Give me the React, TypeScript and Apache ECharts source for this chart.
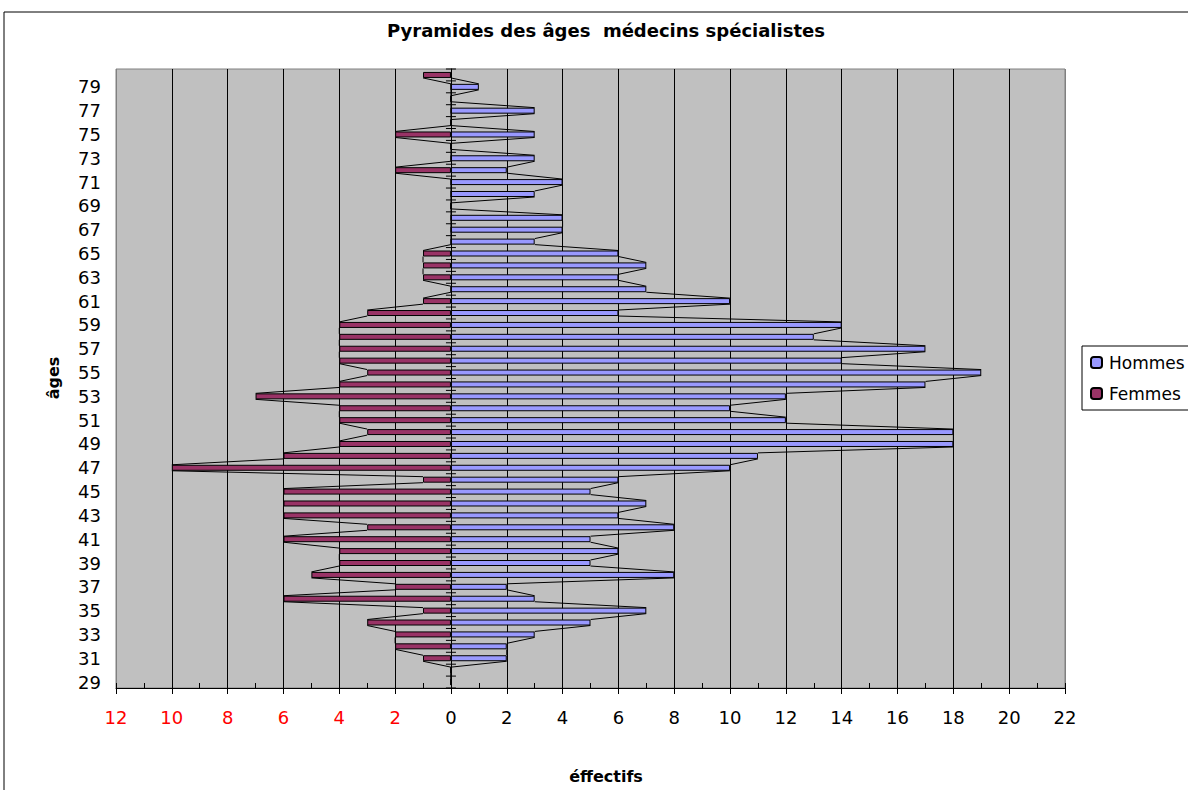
import React, { useEffect, useRef } from "react";
import * as echarts from "echarts";

const AGES = [
  "29","30","31","32","33","34","35","36","37","38",
  "39","40","41","42","43","44","45","46","47","48",
  "49","50","51","52","53","54","55","56","57","58",
  "59","60","61","62","63","64","65","66","67","68",
  "69","70","71","72","73","74","75","76","77","78",
  "79","80",
];
const HOMMES = [
  0, 0, 2, 2, 3, 5, 7, 3, 2, 8,
  5, 6, 5, 8, 6, 7, 5, 6, 10, 11,
  18, 18, 12, 10, 12, 17, 19, 14, 17, 13,
  14, 6, 10, 7, 6, 7, 6, 3, 4, 4,
  0, 3, 4, 2, 3, 0, 3, 0, 3, 0,
  1, 0,
];
const FEMMES = [
  0, 0, -1, -2, -2, -3, -1, -6, -2, -5,
  -4, -4, -6, -3, -6, -6, -6, -1, -10, -6,
  -4, -3, -4, -4, -7, -4, -3, -4, -4, -4,
  -4, -3, -1, 0, -1, -1, -1, 0, 0, 0,
  0, 0, 0, -2, 0, 0, -2, 0, 0, 0,
  0, -1,
];
const X_MIN = -12;
const X_MAX = 22;
const X_STEP = 2;

const TITLE = "Pyramides des âges  médecins spécialistes";
const X_NAME = "éffectifs";
const Y_NAME = "âges";

const FONT = "'DejaVu Sans', Verdana, sans-serif";
const BAR_W = 6;

function linkSeries(values: number[]) {
  const data = values.slice(0, -1).map((v, i) => [v, i, values[i + 1]]);
  return {
    type: "custom",
    silent: true,
    z: 4,
    xAxisIndex: 0,
    yAxisIndex: 0,
    encode: { x: 0, y: 1 },
    data,
    renderItem: (params: any, api: any) => {
      const i = api.value(1);
      const a = api.coord([api.value(0), i]);
      const b = api.coord([api.value(2), i + 1]);
      const h = BAR_W / 2;
      return {
        type: "line",
        shape: { x1: a[0], y1: a[1] - h, x2: b[0], y2: b[1] + h },
        style: { stroke: "#000", lineWidth: 1 },
      };
    },
  };
}

function tickSeries() {
  const data = AGES.map((_, i) => [0, i]);
  return {
    type: "custom",
    silent: true,
    z: 5,
    xAxisIndex: 0,
    yAxisIndex: 0,
    encode: { x: 0, y: 1 },
    data,
    renderItem: (params: any, api: any) => {
      const i = api.value(1);
      const c = api.coord([0, i]);
      const band = api.size([0, 1])[1];
      const children: any[] = [
        {
          type: "line",
          shape: { x1: c[0] - 5, y1: c[1] + band / 2, x2: c[0] + 5, y2: c[1] + band / 2 },
          style: { stroke: "#000", lineWidth: 1 },
        },
      ];
      if (i === AGES.length - 1) {
        children.push({
          type: "line",
          shape: { x1: c[0] - 5, y1: c[1] - band / 2, x2: c[0] + 5, y2: c[1] - band / 2 },
          style: { stroke: "#000", lineWidth: 1 },
        });
      }
      return { type: "group", children };
    },
  };
}

export default function App() {
  const ref = useRef<HTMLDivElement>(null);

  useEffect(() => {
    if (!ref.current) return;
    const chart = echarts.init(ref.current, undefined, { renderer: "svg" });
    const nTicks = (X_MAX - X_MIN) / X_STEP + 1;
    const splitColors = Array.from({ length: nTicks }, (_, k) =>
      k === 0 || k === nTicks - 1 ? "#808080" : "#000000"
    );

    chart.setOption({
      animation: false,
      backgroundColor: "#ffffff",
      textStyle: { fontFamily: FONT },
      grid: {
        left: 116,
        top: 69,
        width: 949,
        height: 619,
        show: true,
        backgroundColor: "#C0C0C0",
        borderColor: "#808080",
        borderWidth: 1,
      },
      legend: {
        data: ["Hommes", "Femmes"],
        orient: "vertical",
        left: 1082,
        top: 346,
        padding: [8, 30, 8, 8],
        itemWidth: 11,
        itemHeight: 11,
        itemGap: 14,
        borderColor: "#000",
        borderWidth: 1,
        backgroundColor: "#fff",
        textStyle: { fontFamily: FONT, fontSize: 17, color: "#000", padding: [0, 0, 0, 2] },
      },
      xAxis: [
        {
          type: "value",
          position: "bottom",
          min: X_MIN,
          max: X_MAX,
          interval: X_STEP,
          axisLine: { show: true, onZero: false, lineStyle: { color: "#000", width: 1 } },
          axisTick: { show: true, length: 6, lineStyle: { color: "#000" } },
          splitLine: { show: true, lineStyle: { color: splitColors, width: 1 } },
          axisLabel: {
            margin: 20,
            fontFamily: FONT,
            fontSize: 18,
            formatter: (v: number) => String(Math.abs(v)),
            color: (v: any) => (Number(v) < 0 ? "#FF0000" : "#000000"),
          },
        },
        {
          type: "value",
          position: "bottom",
          min: X_MIN,
          max: X_MAX,
          interval: 1,
          axisLine: { show: false, onZero: false },
          axisTick: { show: true, inside: true, length: 5, lineStyle: { color: "#000" } },
          splitLine: { show: false },
          axisLabel: { show: false },
        },
      ],
      yAxis: [
        {
          type: "category",
          data: AGES,
          position: "left",
          axisLine: { show: false, onZero: false },
          axisTick: { show: false },
          splitLine: { show: false },
          axisLabel: {
            interval: 1,
            margin: 15,
            fontFamily: FONT,
            fontSize: 18,
            color: "#000",
          },
        },
        {
          type: "category",
          data: AGES,
          position: "left",
          axisLine: { show: true, onZero: true, lineStyle: { color: "#000", width: 1 } },
          axisTick: { show: false },
          axisLabel: { show: false },
          splitLine: { show: false },
        },
      ],
      series: [
        {
          name: "Hommes",
          type: "bar",
          xAxisIndex: 0,
          yAxisIndex: 0,
          data: HOMMES,
          barWidth: BAR_W,
          barGap: "-100%",
          z: 3,
          itemStyle: { color: "#9999FF", borderColor: "#000", borderWidth: 1 },
        },
        {
          name: "Femmes",
          type: "bar",
          xAxisIndex: 0,
          yAxisIndex: 0,
          data: FEMMES,
          barWidth: BAR_W,
          barGap: "-100%",
          z: 3,
          itemStyle: { color: "#993366", borderColor: "#000", borderWidth: 1 },
        },
        linkSeries(HOMMES),
        linkSeries(FEMMES),
        tickSeries(),
      ],
      graphic: [
        {
          type: "rect",
          silent: true,
          z: -10,
          shape: { x: 4, y: 12, width: 1300, height: 900 },
          style: { fill: "none", stroke: "#000", lineWidth: 1 },
        },
        {
          type: "text",
          x: 606,
          y: 30,
          style: {
            text: TITLE,
            fontFamily: FONT,
            fontSize: 18,
            fontWeight: "bold",
            fill: "#000",
            textAlign: "center",
            verticalAlign: "middle",
          },
        },
        {
          type: "text",
          x: 606,
          y: 776,
          style: {
            text: X_NAME,
            fontFamily: FONT,
            fontSize: 16,
            fontWeight: "bold",
            fill: "#000",
            textAlign: "center",
            verticalAlign: "middle",
          },
        },
        {
          type: "text",
          x: 53,
          y: 378,
          rotation: Math.PI / 2,
          style: {
            text: Y_NAME,
            fontFamily: FONT,
            fontSize: 16,
            fontWeight: "bold",
            fill: "#000",
            textAlign: "center",
            verticalAlign: "middle",
          },
        },
      ],
    });

    return () => chart.dispose();
  }, []);

  return (
    <div
      ref={ref}
      style={{ position: "fixed", left: 0, top: 0, width: 1188, height: 790, background: "#fff" }}
    />
  );
}
